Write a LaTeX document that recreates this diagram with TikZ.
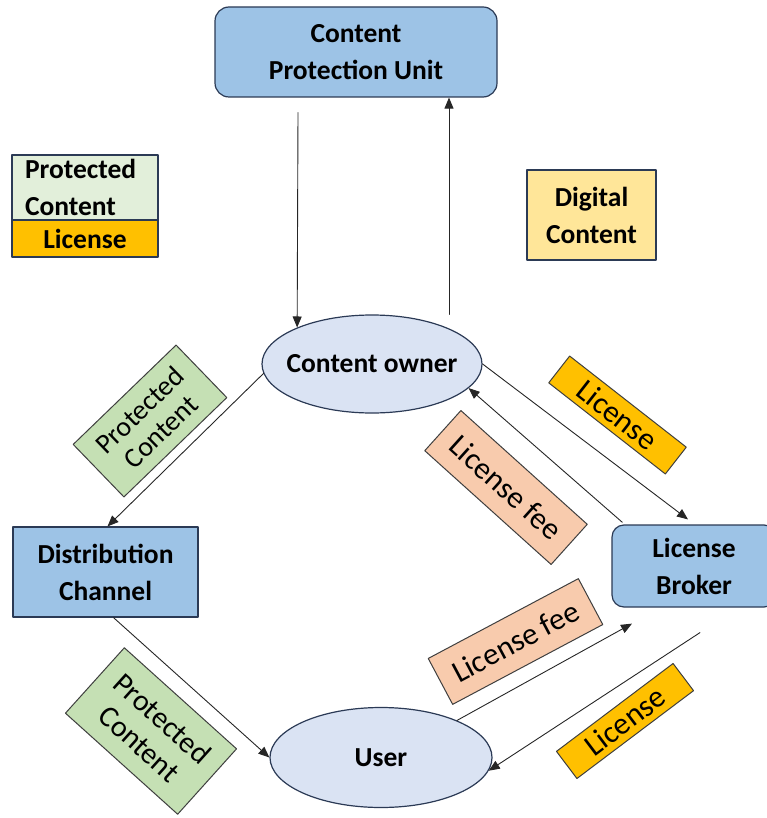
\documentclass[tikz,border=0pt]{standalone}
\usepackage{fontspec}
\setmainfont{Carlito}
\usetikzlibrary{shapes.geometric,arrows.meta}
\definecolor{unitblue}{HTML}{9DC3E6}
\definecolor{ownerblue}{HTML}{DAE3F3}
\definecolor{navyline}{HTML}{2B3A55}
\definecolor{leggreen}{HTML}{E2EFDA}
\definecolor{taggreen}{HTML}{C5E0B4}
\definecolor{tagorange}{HTML}{FFC000}
\definecolor{tagpeach}{HTML}{F8CBAD}
\definecolor{digyellow}{HTML}{FFE699}
\definecolor{tagline}{HTML}{3F3F3F}
\begin{document}
\begin{tikzpicture}[x=1pt, y=-1pt, line cap=round, line join=round,
  box/.style={draw=navyline, line width=1.2pt, fill=unitblue, align=center,
    inner sep=0pt, font=\bfseries\fontsize{27.5}{37}\selectfont},
  ell/.style={ellipse, draw=navyline, line width=1.2pt, fill=ownerblue,
    inner sep=0pt, font=\bfseries\fontsize{27.5}{37}\selectfont},
  tag/.style={draw=tagline, line width=1pt, align=center, inner sep=0pt,
    font=\fontsize{31}{34}\selectfont},
  arr/.style={draw=black!85, line width=0.9pt, -{Triangle[length=11pt,width=9pt]}}]
  % page, same margins as the reference
  \useasboundingbox (0,0) rectangle (766,818);

  % main boxes and the two actors
  \node[box, rounded corners=14pt, minimum width=282pt, minimum height=90pt]
    (cpu) at (356,52) {Content\\Protection Unit};
  % zero-width text box, so the ellipse keeps its own size
  \node[ell, minimum width=220pt, minimum height=98pt] (co) at (372,364)
    {\makebox[0pt]{Content owner}};
  \node[box, minimum width=185pt, minimum height=90pt] (dc) at (105.5,572) {Distribution\\Channel};
  \node[box, rounded corners=12pt, minimum width=164pt, minimum height=82pt]
    (lb) at (694,566) {License\\Broker};
  \node[ell, minimum width=222pt, minimum height=100pt] (user) at (381,757.5)
    {\makebox[0pt]{User}};

  % legend (top left) and the digital content box
  \node[box, fill=leggreen, text width=120pt, inner xsep=13pt, align=left,
    minimum height=65pt] (legpc) at (85,187.5) {Protected\\Content};
  \node[box, fill=tagorange, minimum width=146pt, minimum height=37pt]
    (leglic) at (85,238.5) {License};
  \node[box, fill=digyellow, minimum width=129pt, minimum height=90pt]
    (dig) at (591.5,215) {Digital\\Content};

  % rotated tags along the flows
  \node[tag, fill=taggreen, rotate=44, minimum width=143pt, minimum height=73pt,
    font=\fontsize{28}{30}\selectfont] (pcA) at (150,421) {Protected\\Content};
  \node[tag, fill=tagorange, rotate=-38, minimum width=148pt, minimum height=34pt]
    (licA) at (617.5,415) {License};
  \node[tag, fill=tagpeach, rotate=-42, minimum width=170pt, minimum height=54pt]
    (feeA) at (506,487.5) {License fee};
  \node[tag, fill=tagpeach, rotate=28, minimum width=170pt, minimum height=52pt]
    (feeB) at (515.5,641.5) {License fee};
  \node[tag, fill=tagorange, rotate=37, minimum width=146pt, minimum height=34pt]
    (licB) at (625,721) {License};
  \node[tag, fill=taggreen, rotate=-42, minimum width=151pt, minimum height=88pt,
    font=\fontsize{30}{34}\selectfont] (pcB) at (151,731) {Protected\\Content};

  % x positions of the two vertical arrows
  \coordinate (dn) at (298,0);
  \coordinate (up) at (449,0);

  % connectors
  \draw[arr] ([yshift=-15pt]cpu.south -| dn) -- (co.154);
  \draw[arr] (co.north -| up) -- (cpu.south -| up);
  \draw[arr] (co.185) -- ([xshift=2pt]dc.north);
  \draw[arr] (co.east) -- ([xshift=-6pt,yshift=5pt]lb.north);
  \draw[arr] ([xshift=11pt,yshift=2pt]lb.north west) -- (co.-14);
  \draw[arr] ([xshift=8pt]dc.south) -- (user.west);
  \draw[arr] (user.26) -- ([xshift=-62pt,yshift=-16pt]lb.south);
  \draw[arr] ([xshift=6pt,yshift=-25pt]lb.south) -- (user.-7);
\end{tikzpicture}
\end{document}
